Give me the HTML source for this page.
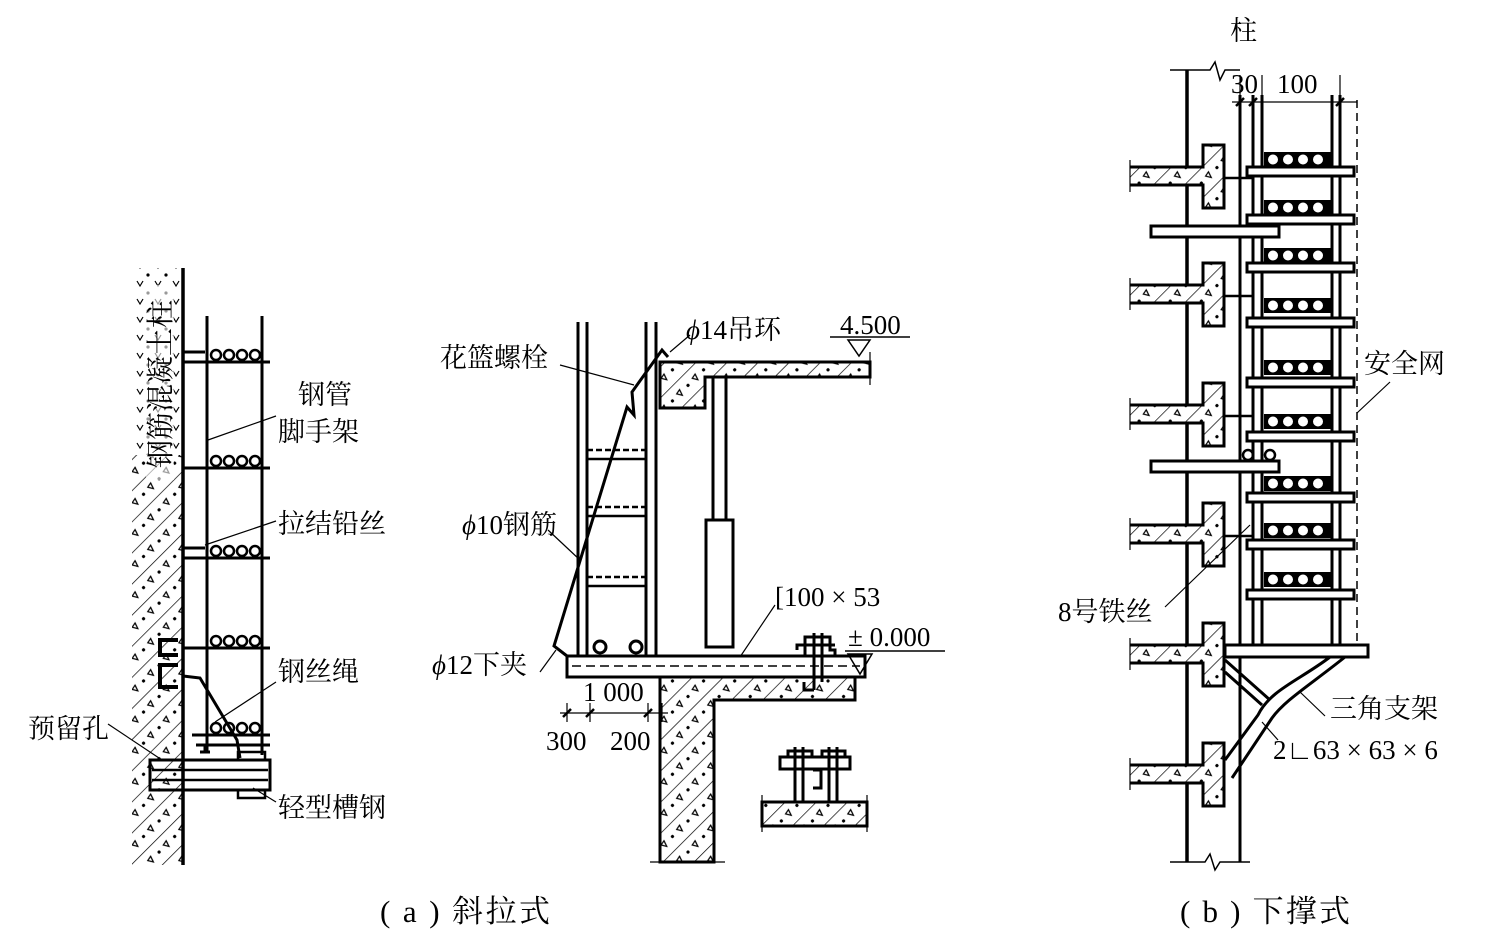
<!DOCTYPE html>
<html><head><meta charset="utf-8">
<style>
html,body{margin:0;padding:0;background:#fff;}
svg{display:block;}
text{font-family:"Liberation Serif","Noto Serif CJK SC","Noto Sans CJK SC",serif;fill:#000;}
</style></head>
<body>
<svg width="1492" height="942" viewBox="0 0 1492 942" xmlns="http://www.w3.org/2000/svg">
<defs>
<pattern id="hatch" width="22" height="22" patternUnits="userSpaceOnUse" patternTransform="rotate(45)">
<rect width="22" height="22" fill="#fff"/>
<line x1="0" y1="0" x2="0" y2="22" stroke="#000" stroke-width="1.4"/>
<circle cx="11" cy="6" r="1.6" fill="#000"/>
<path d="M8 15 l6 2 l-5 3z" fill="none" stroke="#000" stroke-width="1.2"/>
</pattern>
<pattern id="dots" width="18" height="18" patternUnits="userSpaceOnUse">
<rect width="18" height="18" fill="#fff"/>
<circle cx="4" cy="5" r="1.6" fill="#000"/>
<path d="M11 11 l3 5 l3 -5" fill="none" stroke="#000" stroke-width="1.2"/>
</pattern>
</defs>

<g stroke="#000" fill="none" stroke-width="3">
<!-- ============ LEFT FIGURE ============ -->
<rect x="132" y="455" width="50" height="410" fill="url(#hatch)" stroke="none"/>
<rect x="132" y="268" width="50" height="187" fill="url(#dots)" stroke="none"/>
<line x1="183" y1="268" x2="183" y2="865" stroke-width="3.5"/>
<line x1="207" y1="316" x2="207" y2="752"/>
<line x1="262" y1="316" x2="262" y2="755"/>
<!-- transoms -->
<line x1="183" y1="352" x2="205" y2="352"/>
<line x1="183" y1="362" x2="270" y2="362"/>
<line x1="183" y1="468" x2="270" y2="468"/>
<line x1="183" y1="548" x2="205" y2="548"/>
<line x1="183" y1="558" x2="270" y2="558"/>
<line x1="183" y1="648" x2="270" y2="648"/>
<line x1="192" y1="735" x2="270" y2="735"/>
<line x1="196" y1="745" x2="270" y2="745"/>
<line x1="205" y1="745" x2="205" y2="752"/>
<line x1="200" y1="752" x2="210" y2="752"/>
<!-- board circles -->
<g stroke-width="2.5">
<g id="lc"><circle cx="216" cy="355" r="5"/><circle cx="229" cy="355" r="5"/><circle cx="242" cy="355" r="5"/><circle cx="255" cy="355" r="5"/></g>
<use href="#lc" y="106"/><use href="#lc" y="196"/><use href="#lc" y="286"/><use href="#lc" y="373"/>
</g>
<!-- wire rope -->
<polyline points="183,676 200,678 237,740 240,758"/>
<!-- hook -->
<path d="M178 640 h-18 v15 h18 M178 665 h-18 v22 h18" stroke-width="4"/>
<!-- channel -->
<rect x="150" y="760" width="120" height="30" stroke-width="3"/>
<line x1="152" y1="770" x2="268" y2="770" stroke-width="2.5"/>
<line x1="152" y1="780" x2="268" y2="780" stroke-width="2.5"/>
<rect x="238" y="752" width="27" height="8" stroke-width="2.5"/>
<rect x="238" y="790" width="27" height="8" stroke-width="2.5"/>
<!-- leader lines -->
<g stroke-width="1.2">
<line x1="208" y1="440" x2="276" y2="416"/>
<line x1="205" y1="545" x2="276" y2="521"/>
<line x1="215" y1="722" x2="276" y2="682"/>
<line x1="108" y1="724" x2="162" y2="760"/>
<line x1="253" y1="788" x2="276" y2="802"/>
</g>

<!-- ============ MIDDLE FIGURE ============ -->
<line x1="578" y1="322" x2="578" y2="657"/>
<line x1="587" y1="322" x2="587" y2="657"/>
<line x1="646" y1="322" x2="646" y2="657"/>
<line x1="656" y1="322" x2="656" y2="657"/>
<g stroke-width="2.5">
<line x1="587" y1="450" x2="646" y2="450" stroke-dasharray="6 3"/>
<line x1="587" y1="459" x2="646" y2="459"/>
<line x1="587" y1="507" x2="646" y2="507" stroke-dasharray="6 3"/>
<line x1="587" y1="516" x2="646" y2="516"/>
<line x1="587" y1="577" x2="646" y2="577" stroke-dasharray="6 3"/>
<line x1="587" y1="586" x2="646" y2="586"/>
</g>
<circle cx="600" cy="647" r="6"/>
<circle cx="636" cy="647" r="6"/>
<polyline points="567,656 554,646 627,407 634,415 632,392 662,350 668,357"/>
<path d="M660 362 H870 V377 H705 V408 H660 Z" fill="url(#hatch)"/>
<line x1="870" y1="352" x2="870" y2="385" stroke-width="1.2"/>
<line x1="713" y1="377" x2="713" y2="520"/>
<line x1="726" y1="377" x2="726" y2="520"/>
<rect x="706" y="520" width="27" height="127"/>
<rect x="567" y="656" width="298" height="21"/>
<line x1="572" y1="666" x2="860" y2="666" stroke-width="1.5" stroke-dasharray="9 5"/>
<path d="M660 677 H855 V700 H714 V862 H660 Z" fill="url(#hatch)"/>
<line x1="650" y1="862" x2="725" y2="862" stroke-width="1.2"/>
<g stroke-width="3">
<path d="M805 656 V645 H797 V650 M805 645 V637 H830 V645 M830 645 V650 H835 V656"/>
<line x1="814" y1="633" x2="814" y2="690"/>
<line x1="822" y1="633" x2="822" y2="682"/>
<line x1="800" y1="645" x2="835" y2="645"/>
<path d="M814 690 h-10 v-8"/>
</g>
<g stroke-width="1.5">
<line x1="830" y1="337" x2="910" y2="337"/>
<path d="M848 340 L870 340 L859 356 Z" fill="none"/>
<line x1="845" y1="651" x2="945" y2="651"/>
<path d="M848 654 L872 654 L860 674 Z" fill="none"/>
</g>
<g stroke-width="1.2">
<line x1="560" y1="713" x2="668" y2="713"/>
<line x1="567" y1="703" x2="567" y2="722"/><line x1="590" y1="703" x2="590" y2="722"/>
<line x1="648" y1="703" x2="648" y2="722"/><line x1="662" y1="703" x2="662" y2="722"/>
<line x1="563" y1="717" x2="571" y2="709" stroke-width="2.5"/><line x1="586" y1="717" x2="594" y2="709" stroke-width="2.5"/>
<line x1="644" y1="717" x2="652" y2="709" stroke-width="2.5"/>
</g>
<g stroke-width="1.2">
<line x1="560" y1="365" x2="634" y2="385"/>
<line x1="670" y1="352" x2="690" y2="335"/>
<line x1="548" y1="530" x2="580" y2="560"/>
<line x1="540" y1="672" x2="556" y2="650"/>
<line x1="740" y1="657" x2="775" y2="605"/>
</g>
<rect x="762" y="802" width="105" height="24" fill="url(#hatch)" stroke-width="3"/>
<g stroke-width="3">
<rect x="780" y="757" width="70" height="12"/>
<line x1="795" y1="747" x2="795" y2="802"/><line x1="803" y1="747" x2="803" y2="802"/>
<line x1="829" y1="747" x2="829" y2="802"/><line x1="837" y1="747" x2="837" y2="802"/>
<path d="M788 757 V751 H812 V757 M822 757 V751 H845 V757"/>
<path d="M813 770 h8 v18 h-8"/>
</g>
<line x1="762" y1="795" x2="762" y2="832" stroke-width="1.2"/>
<line x1="867" y1="795" x2="867" y2="832" stroke-width="1.2"/>

<!-- ============ RIGHT FIGURE ============ -->
<line x1="1187" y1="70" x2="1187" y2="862" stroke-width="3.5"/>
<line x1="1240" y1="95" x2="1240" y2="862" stroke-width="3"/>
<polyline points="1170,70 1210,70 1215,62 1220,80 1225,70 1240,70" stroke-width="1.5"/>
<polyline points="1170,862 1205,862 1210,854 1215,870 1220,862 1250,862" stroke-width="1.5"/>
<line x1="1253" y1="95" x2="1253" y2="645"/>
<line x1="1262" y1="95" x2="1262" y2="645"/>
<line x1="1332" y1="95" x2="1332" y2="645"/>
<line x1="1340" y1="95" x2="1340" y2="645"/>
<line x1="1357" y1="100" x2="1357" y2="645" stroke-width="1.5" stroke-dasharray="8 5"/>
<g stroke-width="1.2">
<line x1="1232" y1="102" x2="1357" y2="102"/>
<line x1="1240" y1="75" x2="1240" y2="110"/><line x1="1262" y1="75" x2="1262" y2="110"/>
<line x1="1340" y1="75" x2="1340" y2="110"/>
<line x1="1236" y1="106" x2="1244" y2="98" stroke-width="2.5"/>
<line x1="1249" y1="106" x2="1257" y2="98" stroke-width="2.5"/>
<line x1="1336" y1="106" x2="1344" y2="98" stroke-width="2.5"/>
</g>
</g>

<g stroke="#000" stroke-width="3">
<path id="fl" d="M1130 167 H1203 V145 H1224 V208 H1203 V185 H1130" fill="url(#hatch)"/>
<use href="#fl" y="118"/><use href="#fl" y="238"/><use href="#fl" y="358"/><use href="#fl" y="478"/><use href="#fl" y="598"/>
</g>
<g stroke="#000" stroke-width="2.5">
<line x1="1224" y1="178" x2="1253" y2="178"/>
<line x1="1224" y1="296" x2="1253" y2="296"/>
<line x1="1224" y1="416" x2="1253" y2="416"/>
<line x1="1224" y1="536" x2="1253" y2="536"/>
</g>
<g stroke="#000" stroke-width="1.2">
<line x1="1130" y1="160" x2="1130" y2="192"/><line x1="1130" y1="278" x2="1130" y2="310"/>
<line x1="1130" y1="398" x2="1130" y2="430"/><line x1="1130" y1="518" x2="1130" y2="550"/>
<line x1="1130" y1="638" x2="1130" y2="670"/><line x1="1130" y1="758" x2="1130" y2="790"/>
</g>
<g stroke="#000" stroke-width="3" fill="#fff">
<rect x="1151" y="226" width="128" height="11"/>
<rect x="1151" y="461" width="128" height="11"/>
</g>
<g stroke="#000" stroke-width="2.5" fill="none">
<circle cx="1248" cy="455" r="5"/><circle cx="1270" cy="455" r="5"/>
</g>
<g stroke="#000" stroke-width="3" fill="#fff">
<rect x="1247" y="167" width="107" height="9"/>
<rect x="1247" y="215" width="107" height="9"/>
<rect x="1247" y="263" width="107" height="9"/>
<rect x="1247" y="318" width="107" height="9"/>
<rect x="1247" y="378" width="107" height="9"/>
<rect x="1247" y="432" width="107" height="9"/>
<rect x="1247" y="493" width="107" height="9"/>
<rect x="1247" y="540" width="107" height="9"/>
<rect x="1247" y="590" width="107" height="9"/>
</g>
<g fill="#000">
<rect x="1264" y="152" width="68" height="15"/>
<rect x="1264" y="200" width="68" height="15"/>
<rect x="1264" y="248" width="68" height="15"/>
<rect x="1264" y="298" width="68" height="15"/>
<rect x="1264" y="360" width="68" height="15"/>
<rect x="1264" y="414" width="68" height="15"/>
<rect x="1264" y="476" width="68" height="15"/>
<rect x="1264" y="523" width="68" height="15"/>
<rect x="1264" y="572" width="68" height="15"/>
</g>
<g fill="#fff" stroke="#fff" stroke-width="1">
<g id="cc"><circle cx="1273" cy="159.5" r="4.5"/><circle cx="1288" cy="159.5" r="4.5"/><circle cx="1303" cy="159.5" r="4.5"/><circle cx="1318" cy="159.5" r="4.5"/></g>
<use href="#cc" y="48"/><use href="#cc" y="96"/><use href="#cc" y="146"/><use href="#cc" y="208"/>
<use href="#cc" y="262"/><use href="#cc" y="324"/><use href="#cc" y="371"/><use href="#cc" y="420"/>
</g>
<g stroke="#000" stroke-width="3" fill="none">
<rect x="1225" y="645" width="143" height="12" fill="#fff"/>
<path d="M1225 660 L1270 700 M1225 672 L1262 705"/>
<path d="M1330 657 C1300 680 1270 690 1258 715 L1225 760 M1345 657 C1310 685 1285 700 1272 718 L1232 778"/>
</g>
<g stroke="#000" stroke-width="1.2">
<line x1="1357" y1="413" x2="1390" y2="382"/>
<line x1="1165" y1="607" x2="1250" y2="525"/>
<line x1="1300" y1="692" x2="1325" y2="716"/>
<line x1="1262" y1="722" x2="1278" y2="740"/>
</g>

<!-- ============ TEXT ============ -->
<g font-size="27">
<rect x="146" y="285" width="28" height="195" fill="#fff" opacity="0.6"/>
<text x="170" y="384" transform="rotate(-90 170 384)" text-anchor="middle" font-size="28">钢筋混凝土柱</text>
<text x="298" y="404">钢管</text>
<text x="278" y="441">脚手架</text>
<text x="278" y="533">拉结铅丝</text>
<text x="278" y="681">钢丝绳</text>
<text x="28" y="738">预留孔</text>
<text x="278" y="817">轻型槽钢</text>

<text x="440" y="367">花篮螺栓</text>
<text x="686" y="339"><tspan font-style="italic">ϕ</tspan>14吊环</text>
<text x="840" y="334">4.500</text>
<text x="462" y="534"><tspan font-style="italic">ϕ</tspan>10钢筋</text>
<text x="775" y="606">[100 × 53</text>
<text x="848" y="646">± 0.000</text>
<text x="432" y="674"><tspan font-style="italic">ϕ</tspan>12下夹</text>
<text x="583" y="701">1 000</text>
<text x="546" y="750">300</text>
<text x="610" y="750">200</text>

<text x="1230" y="40">柱</text>
<text x="1231" y="93">30</text>
<text x="1277" y="93">100</text>
<text x="1364" y="373">安全网</text>
<text x="1058" y="621">8号铁丝</text>
<text x="1330" y="718">三角支架</text>
<text x="1273" y="759">2∟63 × 63 × 6</text>
</g>
<g font-size="31">
<text x="380" y="922" textLength="170" lengthAdjust="spacing">( a ) 斜拉式</text>
<text x="1180" y="922" textLength="170" lengthAdjust="spacing">( b ) 下撑式</text>
</g>
</svg>
</body></html>
